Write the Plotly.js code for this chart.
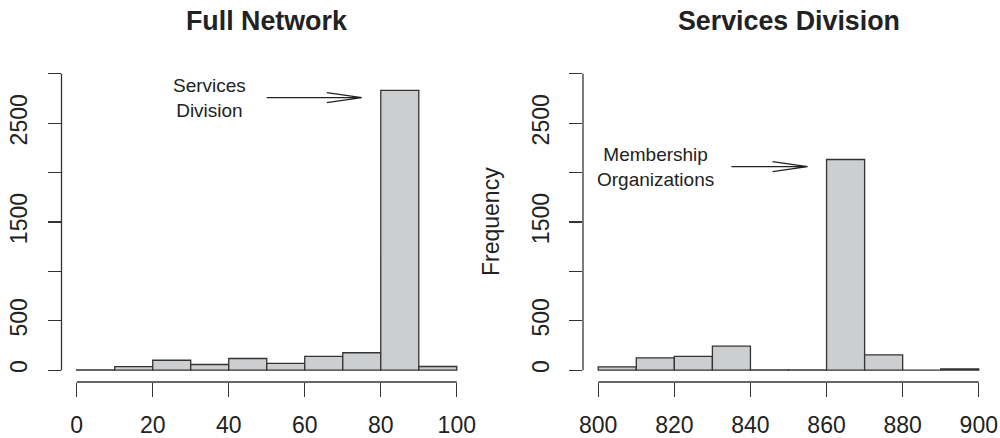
<!DOCTYPE html>
<html>
<head>
<meta charset="utf-8">
<script src="https://cdn.plot.ly/plotly-3.0.1.min.js"></script>
<style>
  html, body { margin: 0; padding: 0; background: #fff; }
  #chart { width: 1000px; height: 438px; }
</style>
</head>
<body>
<div id="chart"></div>
<script>
// ---- Data ----
const leftTitle = "Full Network";
const rightTitle = "Services Division";
const leftBinStarts = [0, 10, 20, 30, 40, 50, 60, 70, 80, 90];
const leftCounts    = [3, 35, 100, 57, 118, 68, 139, 176, 2833, 37];
const rightBinStarts = [800, 810, 820, 830, 840, 850, 860, 870, 880, 890];
const rightCounts    = [34, 125, 139, 243, 2, 2, 2133, 155, 0, 12];
const binWidth = 10;
const leftXTicks = [0, 20, 40, 60, 80, 100];
const rightXTicks = [800, 820, 840, 860, 880, 900];
const yTickVals = [0, 500, 1000, 1500, 2000, 2500, 3000];
const yTickText = ["0", "500", "", "1500", "", "2500", ""];
const yLabel = "Frequency";
const leftNote = {text: "Services<br>Division", tx: 35, x0: 50, x1: 75, y: 2760};
const rightNote = {text: "Membership<br>Organizations", tx: 815, x0: 835, x1: 855, y: 2060};

// ---- Styles ----
const FONT = "Liberation Sans, Arial, Helvetica, sans-serif";
const INK = "#222222";
const LINE = "#333333";
const FILL = "#CDCED0";

function barTrace(starts, counts, xa, ya) {
  return {
    type: "bar", x: starts, y: counts, width: binWidth, offset: 0,
    xaxis: xa, yaxis: ya,
    marker: {color: FILL, line: {color: LINE, width: 1.3}},
    hoverinfo: "x+y", showlegend: false
  };
}

const data = [
  barTrace(leftBinStarts, leftCounts, "x", "y"),
  barTrace(rightBinStarts, rightCounts, "x2", "y2")
];

const W = 1000, H = 438;
const yDom = [(H - 382) / H, (H - 62) / H];

function xAxis(domain, range, ticks) {
  return {
    domain: domain, range: range, tickvals: ticks, ticktext: ticks.map(String),
    showgrid: false, zeroline: false, showline: false,
    ticks: "outside", ticklen: 14, tickwidth: 1.2, tickcolor: LINE,
    ticklabelstandoff: 8,
    tickfont: {family: FONT, size: 23, color: INK}, fixedrange: true
  };
}
function yAxis(anchor) {
  return {
    domain: yDom, range: [-120, 3120], anchor: anchor,
    tickvals: yTickVals, ticktext: yTickText, tickangle: -90,
    showgrid: false, zeroline: false, showline: false,
    ticks: "outside", ticklen: 13, tickwidth: 1.2, tickcolor: LINE,
    ticklabelstandoff: 11,
    tickfont: {family: FONT, size: 23, color: INK}, fixedrange: true
  };
}

function axisLines(xr, yr, xTicks) {
  return [
    {type: "line", xref: xr, yref: yr + " domain", x0: xTicks[0], x1: xTicks[xTicks.length - 1], y0: 0, y1: 0,
     line: {color: LINE, width: 1.3}},
    {type: "line", xref: xr + " domain", yref: yr, x0: 0, x1: 0, y0: yTickVals[0], y1: yTickVals[yTickVals.length - 1],
     line: {color: LINE, width: 1.3}}
  ];
}

// arrow with open V head (like R's arrows())
function arrowShape(note, xr, yr, headX, headY) {
  const p = `M ${note.x0},${note.y} L ${note.x1},${note.y} ` +
            `M ${note.x1 - headX},${note.y + headY} L ${note.x1},${note.y} L ${note.x1 - headX},${note.y - headY}`;
  return {type: "path", xref: xr, yref: yr, path: p, line: {color: INK, width: 1.3}};
}

const shapes = [
  ...axisLines("x", "y", leftXTicks),
  ...axisLines("x2", "y2", rightXTicks),
  arrowShape(leftNote, "x", "y", 9.2, 51),
  arrowShape(rightNote, "x2", "y2", 9.2, 51)
];

const annotations = [
  {text: "<b>" + leftTitle + "</b>", xref: "paper", yref: "paper", x: 266.75 / W, y: (H - 21) / H,
   showarrow: false, xanchor: "center", yanchor: "middle", font: {family: FONT, size: 26.8, color: INK}},
  {text: "<b>" + rightTitle + "</b>", xref: "paper", yref: "paper", x: 788.5 / W, y: (H - 21) / H,
   showarrow: false, xanchor: "center", yanchor: "middle", font: {family: FONT, size: 26.8, color: INK}},
  {text: yLabel, xref: "paper", yref: "paper", x: 491 / W, y: (H - 222) / H, textangle: -90,
   showarrow: false, xanchor: "center", yanchor: "middle", font: {family: FONT, size: 23, color: INK}},
  {text: leftNote.text, xref: "x", yref: "y", x: leftNote.tx, y: leftNote.y, showarrow: false,
   xanchor: "center", yanchor: "middle", align: "center", font: {family: FONT, size: 19, color: INK}},
  {text: rightNote.text, xref: "x2", yref: "y2", x: rightNote.tx, y: rightNote.y, showarrow: false,
   xanchor: "center", yanchor: "middle", align: "center", font: {family: FONT, size: 19, color: INK}}
];

const layout = {
  width: W, height: H, autosize: false,
  margin: {l: 0, r: 0, t: 0, b: 0, pad: 0},
  paper_bgcolor: "#ffffff", plot_bgcolor: "#ffffff",
  bargap: 0, barmode: "overlay",
  xaxis: xAxis([61.5 / W, 472 / W], [-4, 104], leftXTicks),
  yaxis: yAxis("x"),
  xaxis2: Object.assign(xAxis([583 / W, 994 / W], [796, 904], rightXTicks), {anchor: "y2"}),
  yaxis2: yAxis("x2"),
  shapes: shapes,
  annotations: annotations
};
layout.xaxis.anchor = "y";

Plotly.newPlot("chart", data, layout, {displayModeBar: false, staticPlot: true});
</script>
</body>
</html>
